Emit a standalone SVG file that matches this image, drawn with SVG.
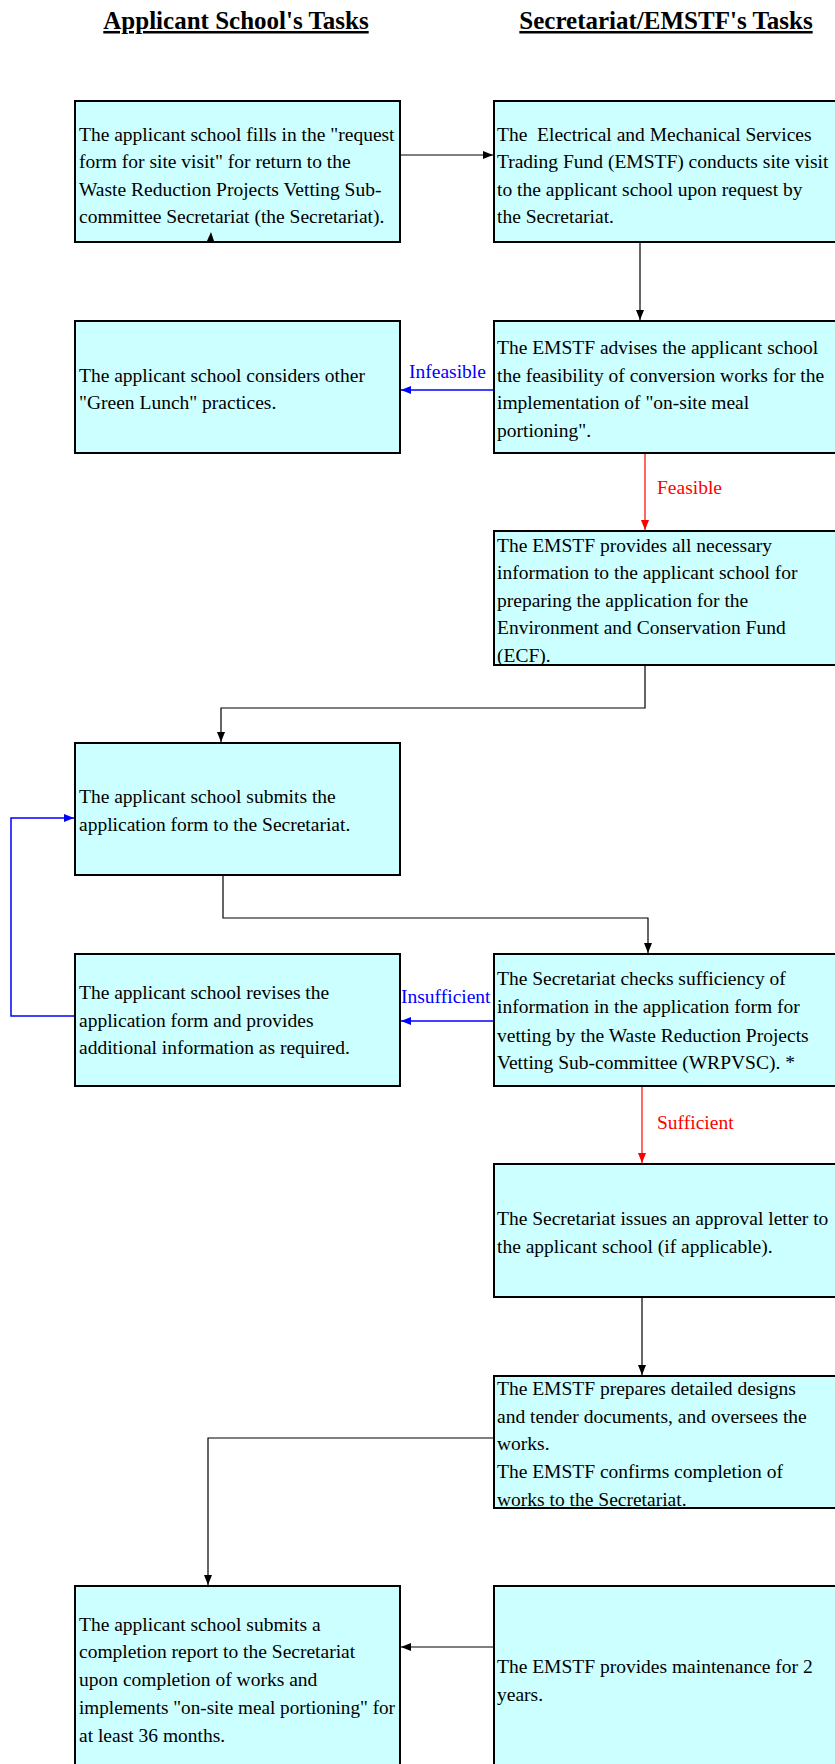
<svg xmlns="http://www.w3.org/2000/svg" width="835" height="1764" viewBox="0 0 835 1764">
<style>
text{font-family:"Liberation Serif","Times New Roman",serif;font-size:19.5px;fill:#000}
.title{font-size:25px;font-weight:bold;text-decoration:underline}
.box{fill:#CCFFFF;stroke:#000;stroke-width:2}
.c{fill:none;stroke:#000;stroke-width:1.2}
.cb{fill:none;stroke:#0000FF;stroke-width:1.5}
.cr{fill:none;stroke:#FF0000;stroke-width:1.2}
.lb{fill:#0000FF}
.lr{fill:#FF0000}
</style>
<defs>
<marker id="ak" markerWidth="10" markerHeight="8" refX="10" refY="4" orient="auto" markerUnits="userSpaceOnUse"><path d="M0,0 L10,4 L0,8 z" fill="#000"/></marker>
<marker id="ab" markerWidth="10" markerHeight="8" refX="10" refY="4" orient="auto" markerUnits="userSpaceOnUse"><path d="M0,0 L10,4 L0,8 z" fill="#0000FF"/></marker>
<marker id="ar" markerWidth="10" markerHeight="8" refX="10" refY="4" orient="auto" markerUnits="userSpaceOnUse"><path d="M0,0 L10,4 L0,8 z" fill="#FF0000"/></marker>
</defs>

<g id="headers">
<text class="title" x="236" y="29" text-anchor="middle">Applicant School's Tasks</text>
<text class="title" x="666" y="29" text-anchor="middle">Secretariat/EMSTF's Tasks</text>
</g>

<g id="n1">
<rect class="box" x="75" y="101" width="325" height="141"/>
<text x="79" y="141">The applicant school fills in the "request</text>
<text x="79" y="168">form for site visit" for return to the</text>
<text x="79" y="196">Waste Reduction Projects Vetting Sub-</text>
<text x="79" y="223">committee Secretariat (the Secretariat).</text>
</g>

<g id="n2">
<rect class="box" x="494" y="101" width="345" height="141"/>
<text x="497" y="141" xml:space="preserve">The  Electrical and Mechanical Services</text>
<text x="497" y="168">Trading Fund (EMSTF) conducts site visit</text>
<text x="497" y="196">to the applicant school upon request by</text>
<text x="497" y="223">the Secretariat.</text>
</g>

<g id="n3">
<rect class="box" x="75" y="321" width="325" height="132"/>
<text x="79" y="382">The applicant school considers other</text>
<text x="79" y="409">"Green Lunch" practices.</text>
</g>

<g id="n4">
<rect class="box" x="494" y="321" width="345" height="132"/>
<text x="497" y="354">The EMSTF advises the applicant school</text>
<text x="497" y="382">the feasibility of conversion works for the</text>
<text x="497" y="409">implementation of "on-site meal</text>
<text x="497" y="437">portioning".</text>
</g>

<g id="n5">
<rect class="box" x="494" y="531" width="345" height="134"/>
<text x="497" y="552">The EMSTF provides all necessary</text>
<text x="497" y="579">information to the applicant school for</text>
<text x="497" y="607">preparing the application for the</text>
<text x="497" y="634">Environment and Conservation Fund</text>
<text x="497" y="662">(ECF).</text>
</g>

<g id="n6">
<rect class="box" x="75" y="743" width="325" height="132"/>
<text x="79" y="803">The applicant school submits the</text>
<text x="79" y="831">application form to the Secretariat.</text>
</g>

<g id="n7">
<rect class="box" x="75" y="954" width="325" height="132"/>
<text x="79" y="999">The applicant school revises the</text>
<text x="79" y="1027">application form and provides</text>
<text x="79" y="1054">additional information as required.</text>
</g>

<g id="n8">
<rect class="box" x="494" y="954" width="345" height="132"/>
<text x="497" y="985">The Secretariat checks sufficiency of</text>
<text x="497" y="1013">information in the application form for</text>
<text x="497" y="1042">vetting by the Waste Reduction Projects</text>
<text x="497" y="1069">Vetting Sub-committee (WRPVSC). *</text>
</g>

<g id="n9">
<rect class="box" x="494" y="1164" width="345" height="133"/>
<text x="497" y="1225">The Secretariat issues an approval letter to</text>
<text x="497" y="1253">the applicant school (if applicable).</text>
</g>

<g id="n10">
<rect class="box" x="494" y="1376" width="345" height="132"/>
<text x="497" y="1395">The EMSTF prepares detailed designs</text>
<text x="497" y="1423">and tender documents, and oversees the</text>
<text x="497" y="1450">works.</text>
<text x="497" y="1478">The EMSTF confirms completion of</text>
<text x="497" y="1506">works to the Secretariat.</text>
</g>

<g id="n11">
<rect class="box" x="75" y="1586" width="325" height="200"/>
<text x="79" y="1631">The applicant school submits a</text>
<text x="79" y="1658">completion report to the Secretariat</text>
<text x="79" y="1686">upon completion of works and</text>
<text x="79" y="1714" textLength="316" lengthAdjust="spacingAndGlyphs">implements "on-site meal portioning" for</text>
<text x="79" y="1742">at least 36 months.</text>
</g>

<g id="n12">
<rect class="box" x="494" y="1586" width="345" height="200"/>
<text x="497" y="1673">The EMSTF provides maintenance for 2</text>
<text x="497" y="1701">years.</text>
</g>

<g id="connectors">
<line class="c" x1="401" y1="155" x2="493" y2="155" marker-end="url(#ak)"/>
<path d="M207,241 L211,232 L214,241 z" fill="#000"/>
<line class="c" x1="640" y1="243" x2="640" y2="320" marker-end="url(#ak)"/>
<line class="cb" x1="493" y1="390" x2="401" y2="390" marker-end="url(#ab)"/>
<line class="cr" x1="645" y1="454" x2="645" y2="530" marker-end="url(#ar)"/>
<path class="c" d="M645,666 V708 H221 V742" marker-end="url(#ak)"/>
<path class="c" d="M223,876 V918 H648 V953" marker-end="url(#ak)"/>
<line class="cb" x1="493" y1="1021" x2="401" y2="1021" marker-end="url(#ab)"/>
<path class="cb" d="M74,1016 H11 V818 H74" stroke-width="1.2" marker-end="url(#ab)"/>
<line class="cr" x1="642" y1="1087" x2="642" y2="1163" marker-end="url(#ar)"/>
<line class="c" x1="642" y1="1298" x2="642" y2="1375" marker-end="url(#ak)"/>
<path class="c" d="M493,1438 H208 V1585" marker-end="url(#ak)"/>
<line class="c" x1="493" y1="1647" x2="401" y2="1647" marker-end="url(#ak)"/>
<text class="lb" x="409" y="378">Infeasible</text>
<text class="lr" x="657" y="494">Feasible</text>
<text class="lb" x="401" y="1003">Insufficient</text>
<text class="lr" x="657" y="1129">Sufficient</text>
</g>
</svg>
